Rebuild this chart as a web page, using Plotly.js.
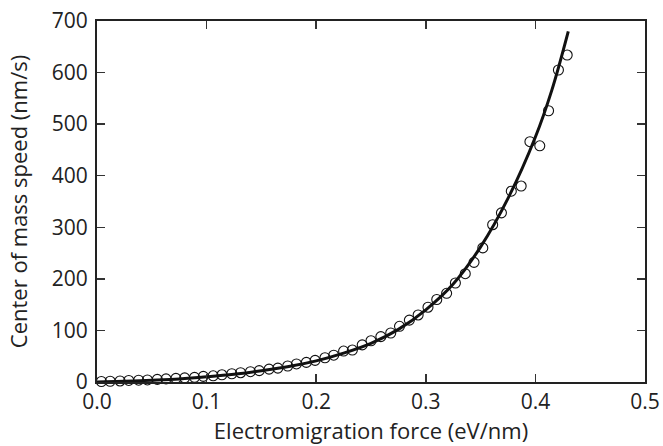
<!DOCTYPE html>
<html>
<head>
<meta charset="utf-8">
<script src="https://cdn.plot.ly/plotly-3.0.1.min.js"></script>
<style>html,body{margin:0;padding:0;background:#fff;}#plot{width:663px;height:446px;}</style>
</head>
<body>
<div id="plot"></div>
<script>
// Measured data points (open circles)
const forceData = [0.004,0.012,0.021,0.029,0.038,0.046,0.055,0.063,0.072,0.080,
  0.089,0.097,0.106,0.114,0.123,0.131,0.140,0.148,0.157,0.165,
  0.174,0.182,0.191,0.199,0.208,0.216,0.225,0.233,0.242,0.250,
  0.259,0.268,0.276,0.285,0.293,0.302,0.310,0.319,0.327,0.336,
  0.344,0.352,0.361,0.369,0.378,0.387,0.395,0.404,0.412,0.421,0.429];
const speedData = [1,1.5,2,3,3.5,4,5,6,7,8,
  9,11,12,14,16,18,20,22,25,27,
  31,35,38,42,47,52,60,62,72,80,
  88,95,108,120,130,145,160,172,192,210,
  232,260,305,328,370,380,466,458,526,605,634];
// Fit curve
const forceFit = [0.0,0.025,0.05,0.075,0.1,0.125,0.15,0.175,0.2,0.225,0.25,0.275,0.3,0.325,0.35,0.375,0.4,0.415,0.43];
const speedFit = [0,1.5,3.5,6,10,15,22,30,41,56,75,102,140,190,262,356,475,566,680];
const xTicks = [0.0,0.1,0.2,0.3,0.4,0.5];
const xTickText = ["0.0","0.1","0.2","0.3","0.4","0.5"];
const yTicks = [0,100,200,300,400,500,600,700];

const FONT = "Open Sans";
const traces = [
  {x: forceData, y: speedData, mode: "markers", type: "scatter",
   marker: {symbol: "circle-open", size: 10, color: "#111", line: {width: 1.1, color: "#111"}},
   cliponaxis: false, hoverinfo: "skip"},
  {x: forceFit, y: speedFit, mode: "lines", type: "scatter",
   line: {color: "#111", width: 3, shape: "spline", smoothing: 1},
   hoverinfo: "skip"}
];
const axisCommon = {
  showgrid: false, zeroline: false, showline: true, linecolor: "#222", linewidth: 2,
  mirror: "ticks", ticks: "inside", ticklen: 8, tickwidth: 1.5, tickcolor: "#333",
  tickfont: {family: FONT, size: 21, color: "#222"}
};
const layout = {
  width: 663, height: 446,
  margin: {l: 97, r: 18, t: 21, b: 64},
  paper_bgcolor: "#fff", plot_bgcolor: "#fff",
  showlegend: false,
  xaxis: Object.assign({}, axisCommon, {
    range: [0, 0.5], tickvals: xTicks, ticktext: xTickText,
    ticklabelstandoff: 0,
    title: {text: "Electromigration force (eV/nm)", font: {family: FONT, size: 22, color: "#222"}, standoff: 3}
  }),
  yaxis: Object.assign({}, axisCommon, {
    range: [0, 700], tickvals: yTicks,
    ticklabelstandoff: 3,
    title: {text: "Center of mass speed (nm/s)", font: {family: FONT, size: 22, color: "#222"}, standoff: 18}
  })
};
Plotly.newPlot("plot", traces, layout, {staticPlot: true, displayModeBar: false});
</script>
</body>
</html>
